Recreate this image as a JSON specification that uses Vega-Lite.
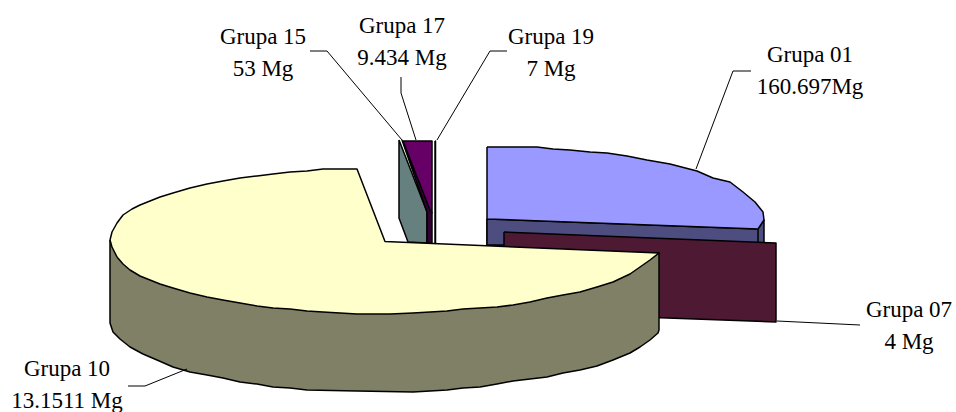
{"$schema":"https://vega.github.io/schema/vega-lite/v6.json","width":956,"height":412,"padding":0,"autosize":{"type":"none"},"background":"white","config":{"view":{"stroke":null}},
"datasets":{
"faces":[
{"part":"01 side","i":1,"x":487,"y":219},{"part":"01 side","i":2,"x":758,"y":229},{"part":"01 side","i":3,"x":764,"y":220},{"part":"01 side","i":4,"x":764,"y":245},{"part":"01 side","i":5,"x":487,"y":245},{"part":"01 side","i":6,"x":487,"y":219},
{"part":"01 edge","i":1,"x":487,"y":219},{"part":"01 edge","i":2,"x":758,"y":229},{"part":"01 edge","i":3,"x":758,"y":245},{"part":"01 edge","i":4,"x":487,"y":245},{"part":"01 edge","i":5,"x":487,"y":219},
{"part":"01 top","i":1,"x":487,"y":147},{"part":"01 top","i":2,"x":537,"y":147},{"part":"01 top","i":3,"x":553,"y":149},{"part":"01 top","i":4,"x":570,"y":150},{"part":"01 top","i":5,"x":590,"y":152},{"part":"01 top","i":6,"x":607,"y":153},{"part":"01 top","i":7,"x":627,"y":156},{"part":"01 top","i":8,"x":647,"y":160},{"part":"01 top","i":9,"x":670,"y":164},{"part":"01 top","i":10,"x":697,"y":171},{"part":"01 top","i":11,"x":713,"y":178},{"part":"01 top","i":12,"x":730,"y":182},{"part":"01 top","i":13,"x":743,"y":192},{"part":"01 top","i":14,"x":755,"y":202},{"part":"01 top","i":15,"x":763,"y":212},{"part":"01 top","i":16,"x":764,"y":220},{"part":"01 top","i":17,"x":758,"y":229},{"part":"01 top","i":18,"x":487,"y":219},{"part":"01 top","i":19,"x":487,"y":147},
{"part":"07 side","i":1,"x":504,"y":232},{"part":"07 side","i":2,"x":776,"y":243},{"part":"07 side","i":3,"x":776,"y":322},{"part":"07 side","i":4,"x":504,"y":312},{"part":"07 side","i":5,"x":504,"y":232},
{"part":"15 side","i":1,"x":399,"y":140},{"part":"15 side","i":2,"x":399,"y":218},{"part":"15 side","i":3,"x":408,"y":242},{"part":"15 side","i":4,"x":427,"y":243},{"part":"15 side","i":5,"x":427,"y":212},{"part":"15 side","i":6,"x":399,"y":140},
{"part":"17 side","i":1,"x":402,"y":140},{"part":"17 side","i":2,"x":427,"y":212},{"part":"17 side","i":3,"x":427,"y":243},{"part":"17 side","i":4,"x":432,"y":243},{"part":"17 side","i":5,"x":432,"y":213},{"part":"17 side","i":6,"x":402,"y":140},
{"part":"17 top","i":1,"x":403,"y":141},{"part":"17 top","i":2,"x":432,"y":141},{"part":"17 top","i":3,"x":432,"y":213},{"part":"17 top","i":4,"x":430,"y":210},{"part":"17 top","i":5,"x":403,"y":141},
{"part":"19 top","i":1,"x":435,"y":141},{"part":"19 top","i":2,"x":435.5,"y":141},{"part":"19 top","i":3,"x":435.5,"y":243},{"part":"19 top","i":4,"x":435,"y":243},{"part":"19 top","i":5,"x":435,"y":141},
{"part":"10 side","i":1,"x":110,"y":240},{"part":"10 side","i":2,"x":110,"y":323},{"part":"10 side","i":3,"x":113,"y":332},{"part":"10 side","i":4,"x":120,"y":339},{"part":"10 side","i":5,"x":130,"y":347},{"part":"10 side","i":6,"x":143,"y":354},{"part":"10 side","i":7,"x":157,"y":360},{"part":"10 side","i":8,"x":173,"y":367},{"part":"10 side","i":9,"x":190,"y":372},{"part":"10 side","i":10,"x":207,"y":375},{"part":"10 side","i":11,"x":223,"y":378},{"part":"10 side","i":12,"x":240,"y":382},{"part":"10 side","i":13,"x":257,"y":384},{"part":"10 side","i":14,"x":273,"y":387},{"part":"10 side","i":15,"x":290,"y":388},{"part":"10 side","i":16,"x":307,"y":390},{"part":"10 side","i":17,"x":357,"y":391},{"part":"10 side","i":18,"x":413,"y":392},{"part":"10 side","i":19,"x":430,"y":391},{"part":"10 side","i":20,"x":447,"y":390},{"part":"10 side","i":21,"x":463,"y":388},{"part":"10 side","i":22,"x":480,"y":387},{"part":"10 side","i":23,"x":497,"y":384},{"part":"10 side","i":24,"x":513,"y":381},{"part":"10 side","i":25,"x":530,"y":379},{"part":"10 side","i":26,"x":547,"y":377},{"part":"10 side","i":27,"x":563,"y":373},{"part":"10 side","i":28,"x":580,"y":370},{"part":"10 side","i":29,"x":597,"y":366},{"part":"10 side","i":30,"x":613,"y":360},{"part":"10 side","i":31,"x":630,"y":353},{"part":"10 side","i":32,"x":640,"y":347},{"part":"10 side","i":33,"x":650,"y":340},{"part":"10 side","i":34,"x":658,"y":333},{"part":"10 side","i":35,"x":659,"y":330},{"part":"10 side","i":36,"x":659,"y":253},{"part":"10 side","i":37,"x":110,"y":240},
{"part":"10 top","i":1,"x":110,"y":240},{"part":"10 top","i":2,"x":112,"y":232},{"part":"10 top","i":3,"x":117,"y":223},{"part":"10 top","i":4,"x":123,"y":215},{"part":"10 top","i":5,"x":132,"y":209},{"part":"10 top","i":6,"x":140,"y":205},{"part":"10 top","i":7,"x":150,"y":201},{"part":"10 top","i":8,"x":160,"y":197},{"part":"10 top","i":9,"x":173,"y":193},{"part":"10 top","i":10,"x":190,"y":188},{"part":"10 top","i":11,"x":207,"y":184},{"part":"10 top","i":12,"x":223,"y":181},{"part":"10 top","i":13,"x":240,"y":178},{"part":"10 top","i":14,"x":257,"y":176},{"part":"10 top","i":15,"x":273,"y":174},{"part":"10 top","i":16,"x":290,"y":172},{"part":"10 top","i":17,"x":307,"y":171},{"part":"10 top","i":18,"x":323,"y":169},{"part":"10 top","i":19,"x":340,"y":169},{"part":"10 top","i":20,"x":357,"y":169},{"part":"10 top","i":21,"x":385,"y":241.5},{"part":"10 top","i":22,"x":659,"y":253},{"part":"10 top","i":23,"x":650,"y":260},{"part":"10 top","i":24,"x":640,"y":267},{"part":"10 top","i":25,"x":630,"y":274},{"part":"10 top","i":26,"x":613,"y":282},{"part":"10 top","i":27,"x":597,"y":287},{"part":"10 top","i":28,"x":580,"y":292},{"part":"10 top","i":29,"x":563,"y":295},{"part":"10 top","i":30,"x":547,"y":298},{"part":"10 top","i":31,"x":530,"y":302},{"part":"10 top","i":32,"x":513,"y":305},{"part":"10 top","i":33,"x":497,"y":307},{"part":"10 top","i":34,"x":480,"y":308},{"part":"10 top","i":35,"x":463,"y":309},{"part":"10 top","i":36,"x":447,"y":311},{"part":"10 top","i":37,"x":430,"y":312},{"part":"10 top","i":38,"x":413,"y":313},{"part":"10 top","i":39,"x":390,"y":314},{"part":"10 top","i":40,"x":357,"y":314},{"part":"10 top","i":41,"x":323,"y":312},{"part":"10 top","i":42,"x":307,"y":311},{"part":"10 top","i":43,"x":290,"y":309},{"part":"10 top","i":44,"x":273,"y":308},{"part":"10 top","i":45,"x":257,"y":306},{"part":"10 top","i":46,"x":240,"y":303},{"part":"10 top","i":47,"x":223,"y":300},{"part":"10 top","i":48,"x":207,"y":297},{"part":"10 top","i":49,"x":190,"y":293},{"part":"10 top","i":50,"x":173,"y":288},{"part":"10 top","i":51,"x":160,"y":284},{"part":"10 top","i":52,"x":150,"y":280},{"part":"10 top","i":53,"x":140,"y":276},{"part":"10 top","i":54,"x":130,"y":270},{"part":"10 top","i":55,"x":123,"y":264},{"part":"10 top","i":56,"x":117,"y":257},{"part":"10 top","i":57,"x":112,"y":247},{"part":"10 top","i":58,"x":110,"y":240}
],
"leaders":[
{"group":"Grupa 01","i":1,"x":751,"y":71},{"group":"Grupa 01","i":2,"x":733,"y":71},{"group":"Grupa 01","i":3,"x":696,"y":169},
{"group":"Grupa 07","i":1,"x":777,"y":321},{"group":"Grupa 07","i":2,"x":860,"y":325},
{"group":"Grupa 10","i":1,"x":128,"y":386},{"group":"Grupa 10","i":2,"x":145,"y":386},{"group":"Grupa 10","i":3,"x":187,"y":369},
{"group":"Grupa 15","i":1,"x":310,"y":51},{"group":"Grupa 15","i":2,"x":327,"y":51},{"group":"Grupa 15","i":3,"x":402,"y":140},
{"group":"Grupa 17","i":1,"x":401,"y":77},{"group":"Grupa 17","i":2,"x":401,"y":93},{"group":"Grupa 17","i":3,"x":416,"y":140},
{"group":"Grupa 19","i":1,"x":507,"y":51},{"group":"Grupa 19","i":2,"x":490,"y":51},{"group":"Grupa 19","i":3,"x":437,"y":140}
],
"labels":[
{"label":"Grupa 01\n160.697Mg","x":810,"y":62},
{"label":"Grupa 07\n4 Mg","x":909,"y":317},
{"label":"Grupa 10\n13.1511 Mg","x":67,"y":376},
{"label":"Grupa 15\n53 Mg","x":263,"y":44},
{"label":"Grupa 17\n9.434 Mg","x":402,"y":33},
{"label":"Grupa 19\n7 Mg","x":551,"y":44}
]},
"encoding":{"x":{"field":"x","type":"quantitative","scale":{"domain":[0,956]},"axis":null},"y":{"field":"y","type":"quantitative","scale":{"domain":[412,0]},"axis":null}},
"layer":[
{"data":{"name":"faces"},"mark":{"type":"line","filled":true,"stroke":"black","strokeWidth":1.5,"strokeJoin":"round"},"encoding":{"order":{"field":"i"},"detail":{"field":"part"},"color":{"field":"part","legend":null,"scale":{"domain":["01 side","01 edge","01 top","07 side","15 side","17 side","17 top","19 top","10 side","10 top"],"range":["#4d4d80","#4d4d80","#9999ff","#4d1933","#668080","#330033","#660066","#ffffff","#808066","#ffffcc"]}}}},
{"data":{"name":"leaders"},"mark":{"type":"line","stroke":"black","strokeWidth":1},"encoding":{"order":{"field":"i"},"detail":{"field":"group"}}},
{"data":{"name":"labels"},"mark":{"type":"text","font":"Liberation Serif","fontSize":23,"align":"center","baseline":"alphabetic","lineBreak":"\n","lineHeight":32,"color":"black"},"encoding":{"text":{"field":"label"}}}
]}
